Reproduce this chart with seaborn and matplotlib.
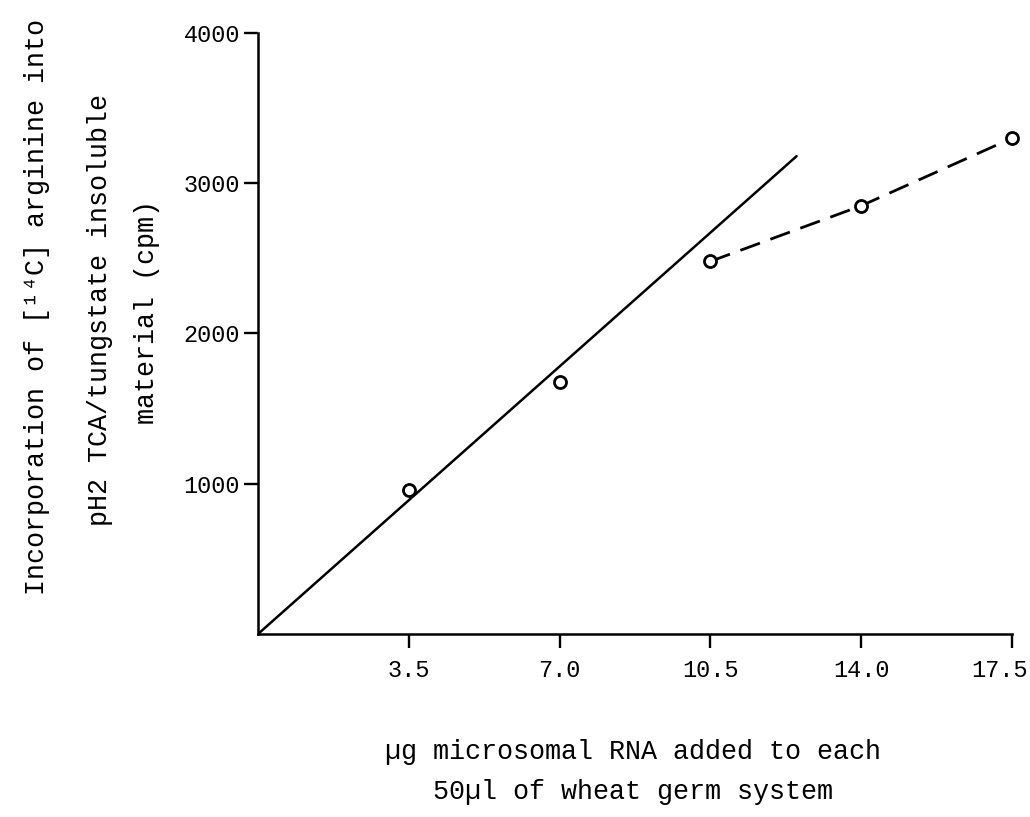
import matplotlib
matplotlib.use("Agg")
import matplotlib.pyplot as plt
import matplotlib.transforms as mtransforms
import seaborn as sns
import pandas as pd

# Measured incorporation for each RNA amount
rna_ug = [3.5, 7.0, 10.5, 14.0, 17.5]
cpm = [960, 1680, 2480, 2850, 3300]

# Linear region drawn by hand through the origin
fit_x = [0.0, 12.5]
fit_y = [0.0, 3180.0]

# Plateau region joined by a dashed line
plateau_x = [10.5, 14.0, 17.5]
plateau_y = [2480, 2850, 3300]

x_ticks = [3.5, 7.0, 10.5, 14.0, 17.5]
x_tick_labels = ["3.5", "7.0", "10.5", "14.0", "17.5"]
y_ticks = [1000, 2000, 3000, 4000]
y_tick_labels = ["1000", "2000", "3000", "4000"]

sns.set_theme(style="ticks")
plt.rcParams["font.family"] = ["Liberation Mono", "DejaVu Sans Mono"]
plt.rcParams["text.color"] = "black"

fig = plt.figure(figsize=(10.30, 8.17), dpi=100)
ax = fig.add_axes([0.2505, 0.224, 0.732, 0.7356])

points = pd.DataFrame({"x": rna_ug, "y": cpm})
fit = pd.DataFrame({"x": fit_x, "y": fit_y})
plateau = pd.DataFrame({"x": plateau_x, "y": plateau_y})

sns.lineplot(data=fit, x="x", y="y", ax=ax, color="black", linewidth=1.8,
             sort=False, estimator=None)
sns.lineplot(data=plateau, x="x", y="y", ax=ax, color="black", linewidth=2.0,
             linestyle=(0, (7.5, 4)), sort=False, estimator=None)
sns.scatterplot(data=points, x="x", y="y", ax=ax, marker="o", s=75,
                facecolor="white", edgecolor="black", linewidth=2.0,
                zorder=5, clip_on=False)

ax.set_xlim(0, 17.5)
ax.set_ylim(0, 4000)
ax.set_xticks(x_ticks)
ax.set_xticklabels(x_tick_labels)
ax.set_yticks(y_ticks)
ax.set_yticklabels(y_tick_labels)
ax.set_xlabel("")
ax.set_ylabel("")

for side in ("top", "right"):
    ax.spines[side].set_visible(False)
for side in ("left", "bottom"):
    ax.spines[side].set_linewidth(1.8)
    ax.spines[side].set_color("black")

ax.tick_params(axis="both", direction="out", length=10, width=1.7,
               colors="black", labelsize=17)
ax.tick_params(axis="y", pad=3)
ax.tick_params(axis="x", pad=8)

# Nudge the last x tick label inward so it stays on the page
last = ax.get_xticklabels()[-1]
last.set_transform(last.get_transform() +
                   mtransforms.ScaledTranslation(-0.12, 0, fig.dpi_scale_trans))

# Axis titles typed on separate lines
title_size = 19.3
fig.text(0.036, 0.624, "Incorporation of [¹⁴C] arginine into",
         rotation=90, ha="center", va="center", fontsize=title_size,
         color="black")
fig.text(0.097, 0.621, "pH2 TCA/tungstate insoluble",
         rotation=90, ha="center", va="center", fontsize=title_size,
         color="black")
fig.text(0.143, 0.618, "material (cpm)",
         rotation=90, ha="center", va="center", fontsize=title_size,
         color="black")

fig.text(0.615, 0.080, "µg microsomal RNA added to each",
         ha="center", va="center", fontsize=title_size, color="black")
fig.text(0.615, 0.031, "50µl of wheat germ system",
         ha="center", va="center", fontsize=title_size, color="black")

fig.savefig("out.png", dpi=100, facecolor="white")
